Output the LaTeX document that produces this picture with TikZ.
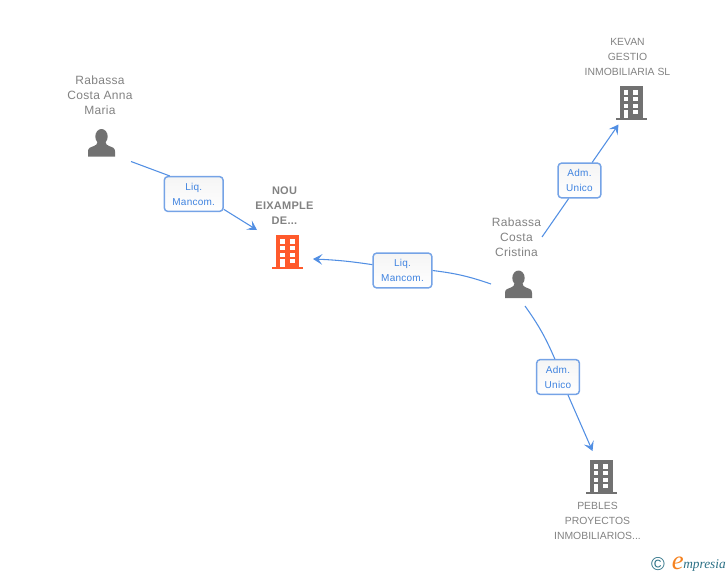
\documentclass[tikz,border=0pt]{standalone}
\usepackage{fontspec}
\setmainfont{Liberation Sans}[LetterSpace=2.5]
\newfontfamily\societefont{Liberation Sans}
\newfontfamily\logofont{Liberation Serif}
\usetikzlibrary{arrows.meta}
\definecolor{gristexte}{HTML}{828282}
\definecolor{grisicone}{HTML}{717171}
\definecolor{rouge}{HTML}{FF5A2C}
\definecolor{bleulien}{HTML}{3F83E0}
\definecolor{bleucadre}{HTML}{75A3E6}
\definecolor{sarcelle}{HTML}{2B7085}
\definecolor{orange}{HTML}{F58220}

\newcommand{\personne}[1]{
	\fill[grisicone,shift={(#1)}] (-13.5,13.5) -- (-13.5,8.5) .. controls (-13.5,5) and (-11.5,4.5) .. (-8,3.2)
	.. controls (-5,2) and (-4.5,1.5) .. (-4,-1) -- (4,-1) .. controls (4.5,1.5) and (5,2) .. (8,3.2)
	.. controls (11.5,4.5) and (13.5,5) .. (13.5,8.5) -- (13.5,13.5) -- cycle;
	\fill[grisicone,shift={(#1)}] (0,-6.5) ellipse (6.2 and 7.5);
}
\newcommand{\immeuble}[2]{
	\begin{scope}[shift={(#1)}]
	\fill[#2] (-11.5,-17) rectangle (11.5,15);
	\fill[#2] (-15.5,15) rectangle (15.5,17);
	\fill[white] (-7.5,-13) rectangle (-3,-8.5);
	\fill[white] (2,-13) rectangle (7,-8.5);
	\fill[white] (-7.5,-6) rectangle (-3,-2);
	\fill[white] (2,-6) rectangle (7,-2);
	\fill[white] (-7.5,0.5) rectangle (-3,4.5);
	\fill[white] (2,0.5) rectangle (7,4.5);
	\fill[white] (-7.5,7) rectangle (-3,15);
	\fill[white] (2,7) rectangle (7,11);
	\end{scope}
}

\begin{document}
\begin{tikzpicture}[x=0.75pt,y=-0.75pt]
	\tikzstyle{nom}=[text=gristexte,align=center,inner sep=0pt,font=\fontsize{9}{11.25}\selectfont]
	\tikzstyle{societe}=[nom,font=\societefont\fontsize{7.8}{11.25}\selectfont]
	\tikzstyle{role}=[rectangle,draw=bleucadre,line width=1.1pt,rounded corners=2.5pt,top color=gray!8,bottom color=white,
	text=bleulien,align=center,inner sep=0pt,minimum height=26pt,font=\fontsize{7.5}{11.25}\selectfont]
	\tikzstyle{lien}=[draw=bleulien!90!white,line width=0.8pt]
	\tikzstyle{fleche}=[lien,-{Stealth[length=7pt,width=8pt,inset=3pt]}]

	\useasboundingbox (0,0) rectangle (728,575);

	\node[nom] (anna) at (100,95) {Rabassa\\Costa Anna\\Maria};
	\node[nom] (cristina) at (516.5,237) {Rabassa\\Costa\\Cristina};
	\node[nom,font=\bfseries\fontsize{8.25}{11.25}\selectfont] (nou) at (284.5,206) {NOU\\EIXAMPLE\\DE...};
	\node[societe] (kevan) at (627.5,57) {KEVAN\\GESTIO\\INMOBILIARIA SL};
	\node[societe] (pebles) at (597.5,521) {PEBLES\\PROYECTOS\\INMOBILIARIOS...};

	\personne{101.5,143}
	\personne{518.5,284.5}
	\immeuble{287.5,252}{rouge}
	\immeuble{631,103}{grisicone}
	\immeuble{601,477}{grisicone}

	\node[role,minimum width=44pt] (liq1) at (193.7,194) {Liq.\\Mancom.};
	\node[role,minimum width=44pt] (liq2) at (402.5,270.5) {Liq.\\Mancom.};
	\node[role,minimum width=32pt] (adm1) at (579.5,180.5) {Adm.\\Unico};
	\node[role,minimum width=32pt] (adm2) at (558,377) {Adm.\\Unico};

	\coordinate (annadep) at (131,161.5);
	\coordinate (nouarr1) at (257,230);
	\coordinate (nouarr2) at (313,259);
	\coordinate (cridep1) at (491,284);
	\coordinate (cridep2) at (542,237);
	\coordinate (cridep3) at (525,306);
	\coordinate (kevarr) at (618.5,124.5);
	\coordinate (pebarr) at (592.5,451);

	\draw[lien] (annadep) -- (liq1.143);
	\draw[fleche] (liq1.-27) -- (nouarr1);
	\draw[lien] (cridep1) to[bend right=6] (liq2.0);
	\draw[fleche] (liq2.169) to[bend right=3] (nouarr2);
	\draw[lien] (cridep2) -- (adm1.-121);
	\draw[fleche] (adm1.55) -- (kevarr);
	\draw[lien] (cridep3) to[bend left=6] (adm2.100);
	\draw[fleche] (adm2.-61) -- (pebarr);

	\node[text=sarcelle,inner sep=0pt,font=\societefont\fontsize{14}{14}\selectfont] (copyr) at (658,564) {©};
	\node[text=sarcelle,inner sep=0pt,anchor=west,font=\logofont\itshape\fontsize{10}{11}\selectfont] (logo) at (683,565) {mpresia};
	\node[text=orange,inner sep=0pt,anchor=east,font=\logofont\itshape\fontsize{20}{20}\selectfont] (logoe) at (684,563) {e};
\end{tikzpicture}
\end{document}
